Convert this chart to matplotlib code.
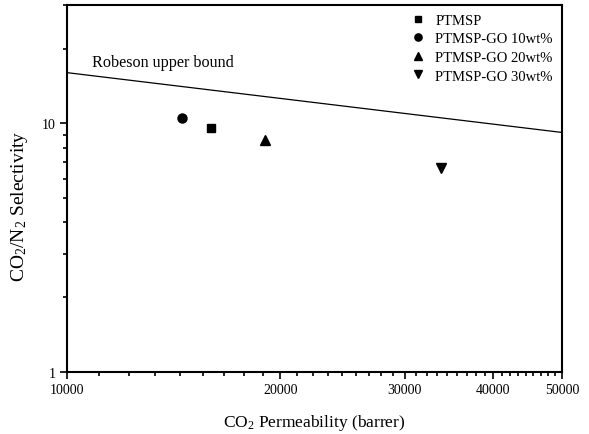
import numpy as np
import matplotlib.pyplot as plt
from matplotlib.ticker import FixedLocator, NullFormatter, LogLocator

plt.rcParams['font.family'] = 'Liberation Serif'
plt.rcParams['mathtext.fontset'] = 'custom'
plt.rcParams['mathtext.rm'] = 'Liberation Serif'
plt.rcParams['mathtext.default'] = 'regular'

# data
names = ['PTMSP', 'PTMSP-GO 10wt%', 'PTMSP-GO 20wt%', 'PTMSP-GO 30wt%']
permeability = [15960, 14550, 19050, 33720]
selectivity = [9.55, 10.5, 8.6, 6.64]

# Robeson upper bound end points
bound_x = [10000, 50000]
bound_y = [16.0, 9.2]

markers = ['s', 'o', '^', 'v']
msizes = [5.5, 6.5, 7, 7]

W, H = 589, 435
fig = plt.figure(figsize=(W / 100, H / 100), dpi=100)
# axes box in pixels: left 67, right 562, top 5.7, bottom 373.3
ax = fig.add_axes([67 / W, 1 - 373.3 / H, 495 / W, 367.6 / H])

ax.plot(bound_x, bound_y, color='black', lw=0.9)
for n, m, ms, x, y in zip(names, markers, msizes, permeability, selectivity):
    ax.plot(x, y, ls='none', marker=m, color='black', markersize=ms, label=n)

ax.text(10846, 17.7, 'Robeson upper bound', fontsize=11.6, va='center', ha='left')

ax.set_xscale('log')
ax.set_yscale('log')
ax.set_xlim(10000, 50000)
ax.set_ylim(1, 30)

ax.xaxis.set_major_locator(FixedLocator([10000, 20000, 30000, 40000, 50000]))
ax.xaxis.set_major_formatter(plt.FuncFormatter(lambda v, p: '%d' % v))
minor_x = []
for a in [10000, 20000, 30000, 40000]:
    minor_x += list(a + np.arange(1, 9) * 10000 / 9)
ax.xaxis.set_minor_locator(FixedLocator(minor_x))
ax.xaxis.set_minor_formatter(NullFormatter())

ax.yaxis.set_major_locator(FixedLocator([1, 10]))
ax.yaxis.set_major_formatter(plt.FuncFormatter(lambda v, p: '%d' % v))
ax.yaxis.set_minor_locator(LogLocator(base=10, subs=np.arange(2, 10)))
ax.yaxis.set_minor_formatter(NullFormatter())

ax.tick_params(which='both', direction='out', labelsize=10, width=1.2, pad=3)
ax.tick_params(which='major', length=5)
ax.tick_params(which='minor', length=3)
for s in ax.spines.values():
    s.set_linewidth(1.5)

ax.set_xlabel('CO$_2$ Permeability (barrer)', fontsize=12.5)
ax.set_ylabel('CO$_2$/N$_2$ Selectivity', fontsize=14)
ax.xaxis.set_label_coords(0.5, -0.108)
ax.yaxis.set_label_coords(-0.074, 0.455)

ax.legend(loc='upper left', bbox_to_anchor=(0.694, 0.976), frameon=False,
          fontsize=10.5, borderpad=0, borderaxespad=0, handlelength=1.0,
          handletextpad=0.7, labelspacing=0.37, markerscale=0.8)

fig.savefig('out.png', dpi=100)
